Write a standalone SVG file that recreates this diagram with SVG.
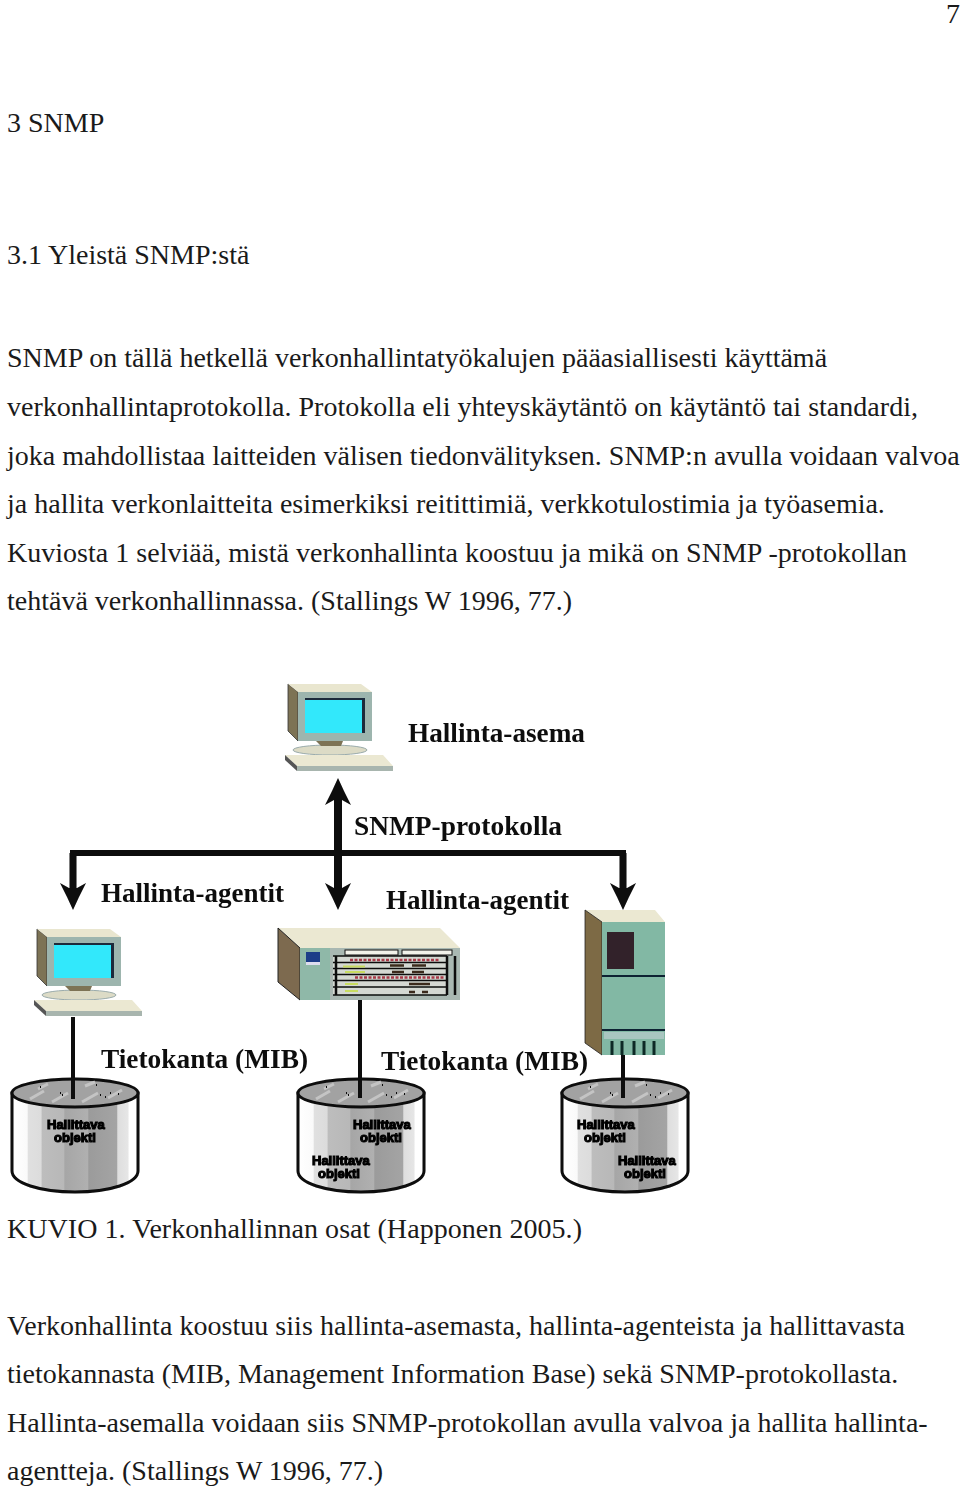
<svg xmlns="http://www.w3.org/2000/svg" width="960" height="1489" viewBox="0 0 960 1489">
<style>
.t{font-family:"Liberation Serif","Times New Roman",serif;font-size:28px;fill:#1a1a1a}
.l{font-family:"Liberation Serif","Times New Roman",serif;font-size:27px;font-weight:bold;fill:#111}
.m{font-family:"Liberation Sans",Arial,sans-serif;font-size:13px;font-weight:bold;fill:#000;stroke:#000;stroke-width:1.1}
.d{fill:#0a0a0a}
</style>
<defs>
<filter id="soft" x="-2%" y="-2%" width="104%" height="104%"><feGaussianBlur stdDeviation=".45"/></filter>
<linearGradient id="cy">
<stop offset="0" stop-color="#fff"/><stop offset=".12" stop-color="#fafafa"/>
<stop offset=".13" stop-color="#e0e0e0"/><stop offset=".23" stop-color="#dcdcdc"/>
<stop offset=".24" stop-color="#bdbdbd"/><stop offset=".41" stop-color="#b8b8b8"/>
<stop offset=".42" stop-color="#a6a6a6"/><stop offset=".6" stop-color="#b0b0b0"/>
<stop offset=".61" stop-color="#9b9b9b"/><stop offset=".83" stop-color="#a4a4a4"/>
<stop offset=".84" stop-color="#dedede"/><stop offset=".92" stop-color="#e6e6e6"/>
<stop offset=".93" stop-color="#fff"/><stop offset="1" stop-color="#fff"/>
</linearGradient>
<g id="pc">
<polygon points="288,684 298,692 298,741 288,731" fill="#7d7355" stroke="#333" stroke-width=".8"/>
<polygon points="288,684 361,684 372,692 298,692" fill="#e9e6cf"/>
<rect x="298" y="692" width="74" height="49" fill="#9db5ae"/>
<rect x="305" y="698" width="60" height="35" fill="#1a2a3a"/>
<rect x="305" y="700" width="57" height="33" fill="#33e8fb"/>
<ellipse cx="330" cy="750" rx="37" ry="5" fill="#dcdbc6" stroke="#9aa" stroke-width="1"/>
<polygon points="316,741 343,741 341,746 321,746" fill="#7d7355"/>
<polygon points="285,755 383,755 393,766 297,766" fill="#ebe8d2"/>
<polygon points="285,755 297,766 297,771 285,760" fill="#555"/>
<rect x="297" y="766" width="96" height="5" fill="#a8b5ae"/>
</g>
<g id="cyl">
<path d="M12,1093V1171C12,1183 40,1192 75,1192S138,1183 138,1171V1093Z" fill="url(#cy)" stroke="#0a0a0a" stroke-width="3"/>
<ellipse cx="75" cy="1093" rx="63" ry="14" fill="#a2a2a2" stroke="#0a0a0a" stroke-width="3"/>
<path d="M30,1099l14,-8M52,1102l16,-9M82,1102l16,-9M108,1098l14,-8M38,1089l10,-5M85,1086l10,-4" stroke="#c4c4c4" stroke-width="3" fill="none"/>
<path d="M40,1087h1M60,1093h1M62,1095h1M96,1085h1M100,1095h1M110,1093h1M118,1094h1M105,1097h1" stroke="#111" stroke-width="2" fill="none"/>
</g>
<path id="down" d="M0,0L-6,-13L-13,-27L-4,-22H4L13,-27L6,-13Z"/>
</defs>
<g id="page-text">
<text class="t" x="946" y="23">7</text>
<text class="t" x="7" y="132">3 SNMP</text>
<text class="t" x="7" y="264">3.1 Yleistä SNMP:stä</text>
<text class="t" x="7" y="367">SNMP on tällä hetkellä verkonhallintatyökalujen pääasiallisesti käyttämä</text>
<text class="t" x="7" y="416" textLength="911">verkonhallintaprotokolla. Protokolla eli yhteyskäytäntö on käytäntö tai standardi,</text>
<text class="t" x="7" y="465">joka mahdollistaa laitteiden välisen tiedonvälityksen. SNMP:n avulla voidaan valvoa</text>
<text class="t" x="7" y="513">ja hallita verkonlaitteita esimerkiksi reitittimiä, verkkotulostimia ja työasemia.</text>
<text class="t" x="7" y="562" textLength="900">Kuviosta 1 selviää, mistä verkonhallinta koostuu ja mikä on SNMP -protokollan</text>
<text class="t" x="7" y="610">tehtävä verkonhallinnassa. (Stallings W 1996, 77.)</text>
<text class="t" x="7" y="1238" textLength="575">KUVIO 1. Verkonhallinnan osat (Happonen 2005.)</text>
<text class="t" x="7" y="1335" textLength="898">Verkonhallinta koostuu siis hallinta-asemasta, hallinta-agenteista ja hallittavasta</text>
<text class="t" x="7" y="1383">tietokannasta (MIB, Management Information Base) sekä SNMP-protokollasta.</text>
<text class="t" x="7" y="1432">Hallinta-asemalla voidaan siis SNMP-protokollan avulla valvoa ja hallita hallinta-</text>
<text class="t" x="7" y="1480">agentteja. (Stallings W 1996, 77.)</text>
</g>
<g filter="url(#soft)">
<g id="connectors">
<rect class="d" x="70" y="850" width="556" height="6"/>
<rect class="d" x="334" y="790" width="8" height="105"/>
<rect class="d" x="69.500" y="853" width="7" height="42"/>
<rect class="d" x="619.500" y="853" width="7" height="42"/>
<use href="#down" class="d" x="73" y="910"/>
<use href="#down" class="d" x="338" y="910"/>
<use href="#down" class="d" x="623" y="910"/>
<use href="#down" class="d" transform="translate(338,778) scale(1,-1)"/>
</g>
<g id="station"><use href="#pc"/><text class="l" x="408" y="742" textLength="177" lengthAdjust="spacingAndGlyphs">Hallinta-asema</text></g>
<text id="protocol" class="l" x="354" y="835" textLength="208" lengthAdjust="spacingAndGlyphs">SNMP-protokolla</text>
<g id="agent-pc"><use href="#pc" x="-251" y="245"/><text class="l" x="101" y="902" textLength="183" lengthAdjust="spacingAndGlyphs">Hallinta-agentit</text></g>
<g id="agent-router">
<polygon points="278,928 440,928 460,948 300,948" fill="#ebe8d2"/>
<polygon points="278,928 300,948 300,1000 278,982" fill="#7d6a50" stroke="#222" stroke-width="1"/>
<rect x="300" y="948" width="160" height="52" fill="#8fb8a8"/>
<rect x="330" y="948" width="130" height="52" fill="#a9b8b2"/>
<rect x="306" y="952" width="14" height="10" fill="#1f3c88"/>
<rect x="306" y="962" width="14" height="3" fill="#dde"/>
<rect x="345" y="950" width="53" height="5" fill="#f2f2ea" stroke="#111"/>
<rect x="402" y="950" width="50" height="5" fill="#f2f2ea" stroke="#111"/>
<rect x="333" y="956" width="114" height="39" fill="#d4d8d2"/>
<path d="M333,956H447M333,962.500H447M333,968.500H447M333,974.500H447M333,980.500H447M333,987H447M333,995H447" stroke="#0d0d0d" stroke-width="1.500" fill="none"/>
<path d="M336,956V995M447,956V995M455,956V995" stroke="#0d0d0d" stroke-width="2.500" fill="none"/>
<path d="M350,960H440M355,977.500H445" stroke="#a83a48" stroke-width="2.500" stroke-dasharray="3 1.500" fill="none"/>
<path d="M343,966.500H365M345,972H365M345,984H358M345,991H358" stroke="#c8dc60" stroke-width="2" fill="none"/>
<path d="M390,965.500H404M412,965.500H426M392,972H404M412,972H424M409,984H430M409,992H415M422,992H428" stroke="#3a2a1a" stroke-width="2.500" fill="none"/>
<text class="l" x="386" y="909" textLength="183" lengthAdjust="spacingAndGlyphs">Hallinta-agentit</text>
</g>
<g id="agent-server">
<polygon points="585,910 655,910 665,922 602,922" fill="#ebe8d2"/>
<polygon points="585,910 602,922 602,1055 585,1043" fill="#7d6a45" stroke="#222" stroke-width=".8"/>
<rect x="602" y="922" width="63" height="133" fill="#82b8a4"/>
<rect x="607" y="932" width="27" height="37" fill="#33202a"/>
<rect x="602" y="975" width="63" height="2" fill="#123"/>
<rect x="602" y="1029" width="63" height="2" fill="#123"/>
<rect x="604" y="1032" width="60" height="7" fill="#a9c6c0"/>
<path d="M612,1041V1055M622,1041V1055M634,1041V1055M644,1041V1055M654,1041V1055" stroke="#0c2a26" stroke-width="3" fill="none"/>
</g>
<g id="mib-1"><use href="#cyl"/><text class="m" x="47" y="1129">Hallittava</text><text class="m" x="54" y="1142">objekti</text><text class="l" x="101" y="1068" textLength="207" lengthAdjust="spacingAndGlyphs">Tietokanta (MIB)</text></g>
<g id="mib-2"><use href="#cyl" x="286"/><text class="m" x="353" y="1129">Hallittava</text><text class="m" x="360" y="1142">objekti</text><text class="m" x="312" y="1165">Hallittava</text><text class="m" x="318" y="1178">objekti</text><text class="l" x="381" y="1070" textLength="207" lengthAdjust="spacingAndGlyphs">Tietokanta (MIB)</text></g>
<g id="mib-3"><use href="#cyl" x="550"/><text class="m" x="577" y="1129">Hallittava</text><text class="m" x="584" y="1142">objekti</text><text class="m" x="618" y="1165">Hallittava</text><text class="m" x="624" y="1178">objekti</text></g>
<g id="links">
<rect class="d" x="71" y="1017" width="4" height="82"/>
<rect class="d" x="358" y="1000" width="4" height="98"/>
<rect class="d" x="621" y="1055" width="4" height="43"/>
</g>
</g>
</svg>
